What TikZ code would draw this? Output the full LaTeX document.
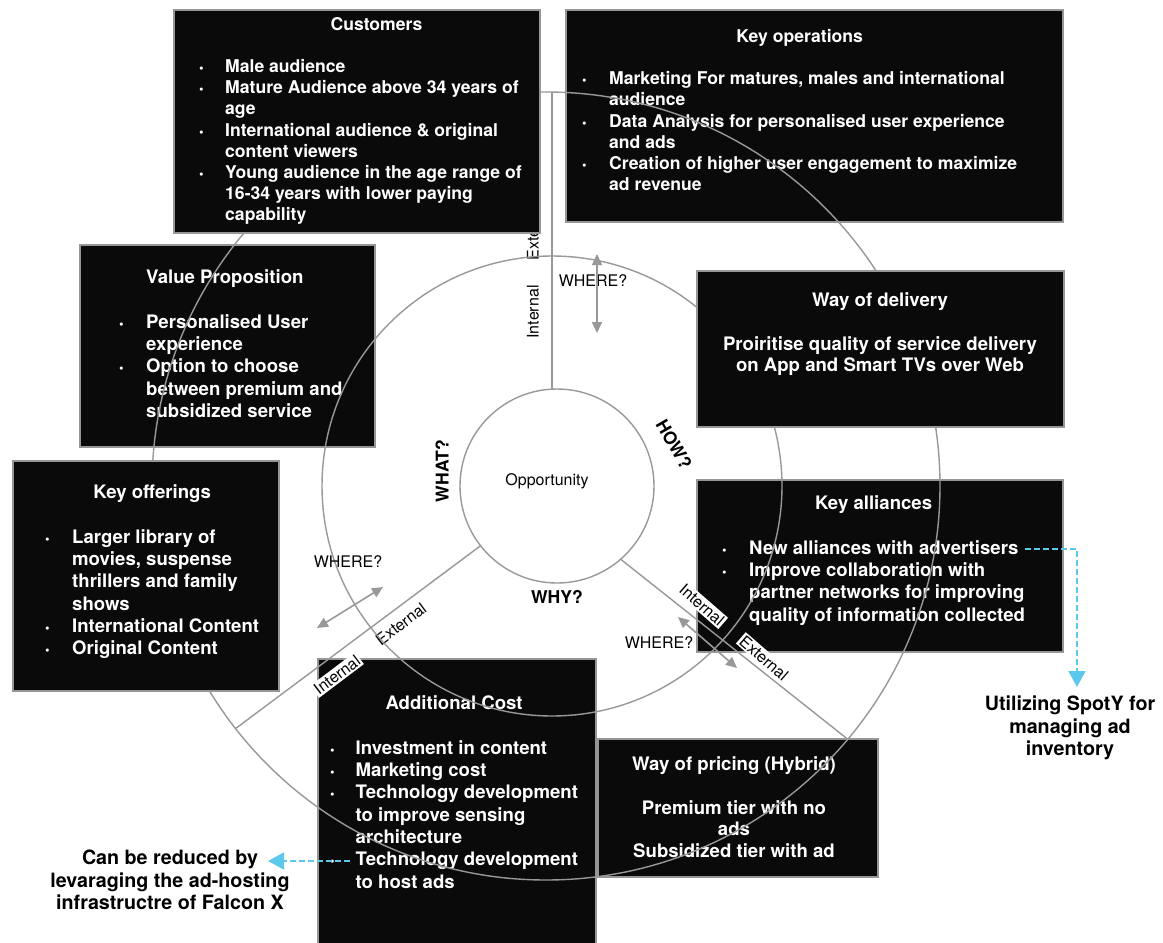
\documentclass[tikz,border=0pt]{standalone}
\usepackage{fontspec}
\setmainfont{TeX Gyre Heros}
\usepackage{xcolor}
\usepackage{tikz}
\usetikzlibrary{arrows.meta,positioning}

\definecolor{panelgray}{RGB}{150,150,150}
\definecolor{ringgray}{RGB}{152,152,152}
\definecolor{hintcyan}{RGB}{92,200,236}
\newcommand{\dotb}{{\fontsize{13}{13}\selectfont\textbullet}}

\begin{document}
\begin{tikzpicture}[
    x=1pt, y=1pt,
    panel/.style={rectangle, draw=panelgray, fill=black!96, line width=1.2pt,
                  inner sep=0pt, outer sep=0pt},
    body/.style={text=white, font=\fontsize{18.6}{22.3}\selectfont\bfseries,
                 inner sep=0pt, anchor=base west},
    smallbody/.style={body, font=\fontsize{17.6}{21.2}\selectfont\bfseries},
    midbody/.style={body, anchor=base, font=\fontsize{18.6}{21.7}\selectfont\bfseries},
    ring/.style={circle, draw=ringgray, line width=1.4pt, inner sep=0pt, outer sep=0pt},
    spoke/.style={draw=ringgray, line width=1.4pt},
    tag/.style={font=\fontsize{16}{19}\selectfont, inner sep=0pt},
    side/.style={tag, fill=white, inner sep=1.5pt},
    ask/.style={font=\fontsize{17.6}{20}\selectfont\bfseries, inner sep=0pt},
    dbl/.style={{Triangle[length=11pt,width=10pt]}-{Triangle[length=11pt,width=10pt]},
                draw=ringgray, line width=1.6pt},
    note/.style={align=center, font=\fontsize{19.7}{22.5}\selectfont\bfseries, inner sep=0pt},
    hint/.style={-{Triangle[length=16pt,width=17pt]}, draw=hintcyan,
                 dash pattern=on 6pt off 3pt, line width=1.8pt},
]
\useasboundingbox (0,0) rectangle (1163,-943);

% Panels lying under the rings
\node[panel, minimum width=497pt, minimum height=212pt] (keyops) at (814.5,-116) {};
\node[smallbody] (keyopstext) at (582,-42.3) {\begin{tabular}[t]{@{}p{27pt}@{}l@{}}
  \multicolumn{2}{@{}c@{}}{Key operations}\\
  & \\
  \dotb & Marketing For matures, males and international\\
  & audience\\
  \dotb & Data Analysis for personalised user experience\\
  & and ads\\
  \dotb & Creation of higher user engagement to maximize\\
  & ad revenue
\end{tabular}};

\node[panel, minimum width=295pt, minimum height=202pt] (valprop) at (227.5,-346) {};
\node[body] (valproptext) at (119,-283.7) {\begin{tabular}[t]{@{}p{27pt}@{}l@{}}
  & Value Proposition\\
  & \\
  \dotb & Personalised User\\
  & experience\\
  \dotb & Option to choose\\
  & between premium and\\
  & subsidized service
\end{tabular}};

\node[panel, minimum width=366pt, minimum height=172pt] (allian) at (880,-566) {};
\node[body] (alliantext) at (722,-509.7) {\begin{tabular}[t]{@{}p{27pt}@{}l@{}}
  \multicolumn{2}{@{}c@{}}{Key alliances}\\
  & \\
  \dotb & New alliances with advertisers\\
  \dotb & Improve collaboration with\\
  & partner networks for improving\\
  & quality of information collected
\end{tabular}};

\node[panel, minimum width=278pt, minimum height=300pt] (cost) at (457,-809) {};
\node[body] (costtext) at (330,-709.7) {\begin{tabular}[t]{@{}p{25.5pt}@{}l@{}}
  \multicolumn{2}{@{}c@{}}{Additional Cost}\\
  & \\
  \dotb & Investment in content\\
  \dotb & Marketing cost\\
  \dotb & Technology development\\
  & to improve sensing\\
  & architecture\\
  \dotb & Technology development\\
  & to host ads
\end{tabular}};

\node[panel, minimum width=280pt, minimum height=138pt] (price) at (738,-808) {};
\node[midbody] (pricetext) at (734,-770.7) {\begin{tabular}[t]{@{}c@{}}
  Way of pricing (Hybrid)\\
  \\
  Premium tier with no\\
  ads\\
  Subsidized tier with ad
\end{tabular}};

% Internal / External markers
\node[side, rotate=90] (intN) at (533,-312) {Internal};
\node[side, rotate=90] (extN) at (533,-231) {External};
\node[side, rotate=37] (extW) at (401,-624) {External};
\node[side, rotate=37] (intW) at (337,-675) {Internal};
\node[side, rotate=-41] (intE) at (702,-605) {Internal};
\node[side, rotate=-41] (extE) at (764,-658) {External};

% Rings and spokes
\node[ring, minimum size=194pt] (opp) at (557,-486) {};
\node[ring, minimum size=460pt] (midring) at (552,-486) {};
\node[ring, minimum size=788pt] (outring) at (546,-486) {};
\draw[spoke] (opp.93) -- (opp.93 |- outring.north);
\draw[spoke] (opp.218) -- (outring.218);
\draw[spoke] (opp.-49) -- (outring.-40);

\node[tag] (opptext) at (547,-481) {Opportunity};
\node[ask, rotate=90] (what) at (442,-471) {WHAT?};
\node[ask, rotate=-60] (how) at (674,-444) {HOW?};
\node[ask] (why) at (557,-597) {WHY?};

% WHERE? arrows
\node[tag] (whereN) at (593,-281) {WHERE?};
\coordinate (whereNa) at (597,-254);
\coordinate (whereNb) at (597,-333);
\draw[dbl] (whereNa) -- (whereNb);

\node[tag] (whereW) at (348,-562) {WHERE?};
\coordinate (whereWa) at (383,-587);
\coordinate (whereWb) at (317,-628);
\draw[dbl] (whereWa) -- (whereWb);

\node[tag] (whereE) at (659,-643) {WHERE?};
\coordinate (whereEa) at (678,-617);
\coordinate (whereEb) at (737,-668);
\draw[dbl] (whereEa) -- (whereEb);

% Panels lying over the rings
\node[panel, minimum width=366pt, minimum height=223pt] (cust) at (357,-121.5) {};
\node[smallbody] (custtext) at (199,-30) {\begin{tabular}[t]{@{}p{26pt}@{}l@{}}
  & \multicolumn{1}{c@{}}{Customers}\\
  & \\
  \dotb & Male audience\\
  \dotb & Mature Audience above 34 years of\\
  & age\\
  \dotb & International audience \& original\\
  & content viewers\\
  \dotb & Young audience in the age range of\\
  & 16-34 years with lower paying\\
  & capability
\end{tabular}};

\node[panel, minimum width=367pt, minimum height=156pt] (deliv) at (880.5,-349) {};
\node[midbody] (delivtext) at (880,-306.7) {\begin{tabular}[t]{@{}c@{}}
  Way of delivery\\
  \\
  Proiritise quality of service delivery\\
  on App and Smart TVs over Web
\end{tabular}};

\node[panel, minimum width=266pt, minimum height=230pt] (offer) at (146,-576) {};
\node[body] (offertext) at (45,-498.7) {\begin{tabular}[t]{@{}p{27pt}@{}l@{}}
  \multicolumn{2}{@{}c@{}}{Key offerings}\\
  & \\
  \dotb & Larger library of\\
  & movies, suspense\\
  & thrillers and family\\
  & shows\\
  \dotb & International Content\\
  \dotb & Original Content
\end{tabular}};

% Side notes
\node[note] (spotnote) at (1070,-728) {Utilizing SpotY for\\managing ad\\inventory};
\coordinate (advend) at (1025,-549);
\coordinate (spottip) at (1077,-687);
\draw[hint] (advend) -| (spottip);

\node[note] (falconnote) at (170,-880) {Can be reduced by\\levaraging the ad-hosting\\infrastructre of Falcon X};
\coordinate (hostads) at (350,-861);
\coordinate (falcontip) at (268,-861);
\draw[hint] (hostads) -- (falcontip);
\end{tikzpicture}
\end{document}
